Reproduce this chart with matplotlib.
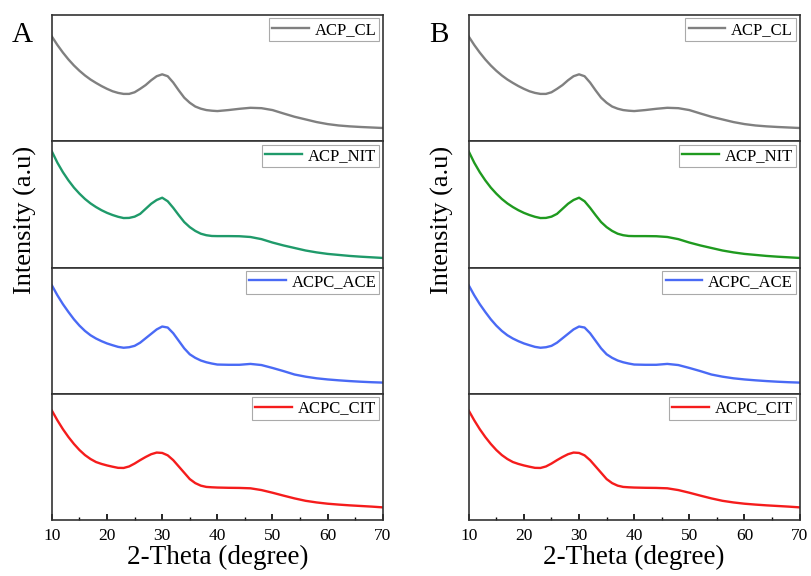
import matplotlib.pyplot as plt
import numpy as np

plt.rcParams['font.family'] = ['Liberation Serif', 'DejaVu Serif']

# 2-theta positions where the curves were read
theta = [10, 11, 12, 13, 14, 15, 16, 17, 18, 19, 20, 21, 22, 23, 24, 25, 26, 27, 28, 29,
         30, 31, 32, 33, 34, 35, 36, 37, 38, 39, 40, 42, 44, 46, 48, 50, 52, 54, 56, 58,
         60, 62, 64, 66, 68, 70]

acp_cl = [82.9, 76.2, 70.2, 64.8, 60.0, 55.8, 52.1, 48.9, 46.2, 43.7, 41.5, 39.6, 38.3,
          37.5, 37.5, 38.8, 41.5, 44.5, 48.3, 51.5, 53.0, 51.5, 46.5, 40.3, 34.5, 30.5,
          27.5, 25.8, 24.7, 24.2, 23.9, 24.7, 25.7, 26.5, 26.2, 24.7, 22.0, 19.4, 17.3,
          15.2, 13.6, 12.5, 11.8, 11.3, 10.9, 10.5]
acp_nit = [91.9, 83.0, 75.5, 69.0, 63.3, 58.5, 54.3, 50.8, 47.9, 45.4, 43.3, 41.6, 40.2,
           39.2, 39.3, 40.3, 42.5, 46.5, 50.5, 53.5, 55.3, 52.5, 47.3, 41.5, 36.0, 32.0,
           29.0, 26.8, 25.6, 25.0, 24.9, 24.9, 24.8, 24.2, 22.5, 19.8, 17.5, 15.5, 13.5,
           12.0, 10.8, 10.0, 9.2, 8.6, 8.1, 7.6]
acpc_ace = [85.9, 78.0, 71.0, 64.8, 59.0, 54.0, 49.8, 46.4, 43.8, 41.7, 39.9, 38.5, 37.2,
            36.5, 36.9, 38.0, 40.5, 44.0, 47.5, 51.0, 53.3, 52.5, 48.0, 42.0, 36.0, 31.3,
            28.5, 26.4, 25.0, 24.0, 23.2, 23.0, 23.0, 23.7, 22.8, 20.5, 18.0, 15.3, 13.6,
            12.3, 11.4, 10.7, 10.1, 9.6, 9.2, 8.9]
acpc_cit = [86.7, 79.0, 72.0, 65.8, 60.3, 55.5, 51.5, 48.4, 46.0, 44.5, 43.3, 42.3, 41.4,
            41.3, 42.5, 44.8, 47.5, 50.0, 52.2, 53.5, 53.2, 51.3, 47.5, 42.5, 37.5, 32.5,
            29.3, 27.3, 26.3, 26.0, 25.8, 25.6, 25.5, 25.2, 23.8, 21.7, 19.4, 17.2, 15.3,
            14.0, 13.0, 12.3, 11.7, 11.2, 10.7, 10.1]

labels = ['ACP_CL', 'ACP_NIT', 'ACPC_ACE', 'ACPC_CIT']
series = [acp_cl, acp_nit, acpc_ace, acpc_cit]
colors_a = ['#808080', '#1f9a6a', '#4a6af5', '#f51c1c']
colors_b = ['#808080', '#1f9a1f', '#4a6af5', '#f51c1c']

fig = plt.figure(figsize=(8.11, 5.76), dpi=100)

panels = [('A', 0.064, 0.472, colors_a), ('B', 0.578, 0.986, colors_b)]
for name, left, right, cols in panels:
    gs = fig.add_gridspec(4, 1, left=left, right=right, top=0.974, bottom=0.097, hspace=0)
    for i in range(4):
        ax = fig.add_subplot(gs[i])
        ax.plot(theta, series[i], color=cols[i], lw=1.7, label=labels[i])
        ax.set_xlim(10, 70)
        ax.set_ylim(0, 100)
        ax.set_yticks([])
        for s in ax.spines.values():
            s.set_linewidth(1.2)
            s.set_color('#333333')
        leg = ax.legend(loc='upper right', fontsize=12, handlelength=2.2,
                        fancybox=False, framealpha=1, borderpad=0.2,
                        borderaxespad=0.2, handletextpad=0.35)
        leg.get_frame().set_edgecolor('#aaaaaa')
        leg.get_frame().set_linewidth(0.8)
        if i < 3:
            ax.set_xticks([])
        else:
            ax.set_xticks(np.arange(10, 71, 10))
            ax.set_xticks(np.arange(15, 70, 10), minor=True)
            ax.tick_params(axis='x', which='major', direction='in', length=4,
                           width=1.2, labelsize=12.5, pad=6)
            ax.tick_params(axis='x', which='minor', direction='in', length=2.5, width=1.0)
            ax.set_xlabel('2-Theta (degree)', fontsize=19.5, labelpad=0)
    fig.text(left - 0.037, 0.94, name, fontsize=21, ha='center', va='center')
    fig.text(left - 0.033, 0.618, 'Intensity (a.u)', fontsize=19, rotation=90,
             ha='center', va='center')

fig.savefig('out.png', dpi=100)
